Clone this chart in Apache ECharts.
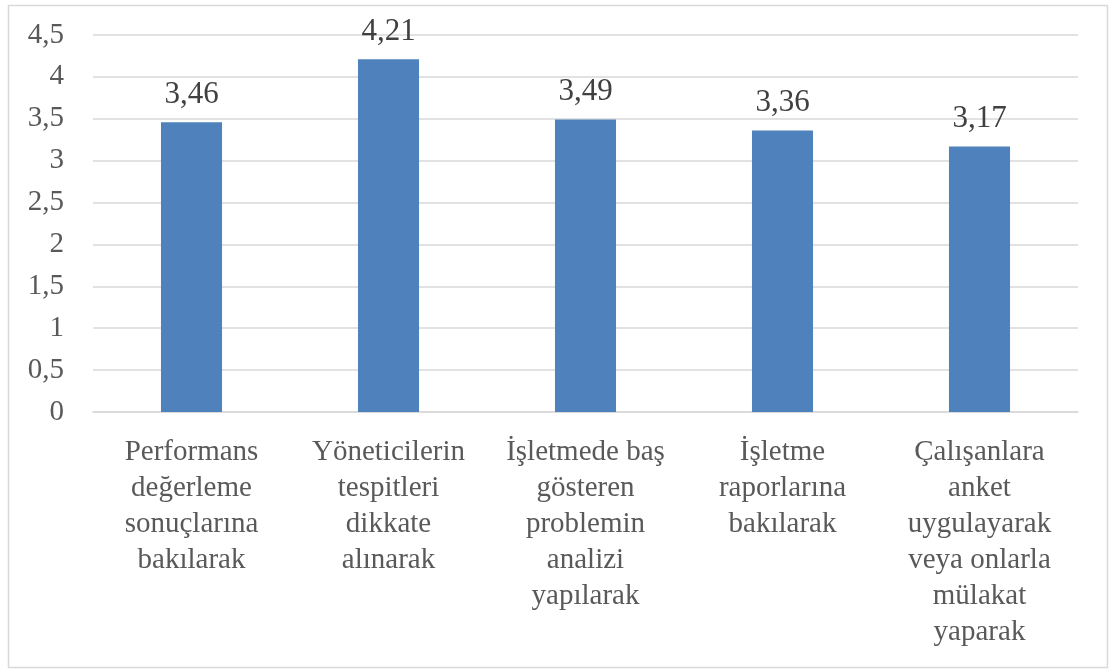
<!DOCTYPE html>
<html>
<head>
<meta charset="utf-8">
<script src="https://cdn.jsdelivr.net/npm/echarts@6/dist/echarts.min.js"></script>
<style>
html,body{margin:0;padding:0;background:#fff;}
#c{width:1109px;height:669px;}
</style>
</head>
<body>
<div id="c"></div>
<script>
const categories = [
  "Performans\ndeğerleme\nsonuçlarına\nbakılarak",
  "Yöneticilerin\ntespitleri\ndikkate\nalınarak",
  "İşletmede baş\ngösteren\nproblemin\nanalizi\nyapılarak",
  "İşletme\nraporlarına\nbakılarak",
  "Çalışanlara\nanket\nuygulayarak\nveya onlarla\nmülakat\nyaparak"
];
const values = [3.46, 4.21, 3.49, 3.36, 3.17];
const yMin = 0, yMax = 4.5, yStep = 0.5;

const chart = echarts.init(document.getElementById('c'), null, {renderer: 'canvas'});
const font = 'Liberation Serif';
chart.setOption({
  animation: false,
  backgroundColor: '#fff',
  graphic: [{
    type: 'rect',
    shape: {x: 8.5, y: 5.5, width: 1099, height: 662},
    style: {fill: 'none', stroke: '#d9d9d9', lineWidth: 1.5},
    silent: true
  }],
  grid: {left: 93, right: 31, top: 35, bottom: 257, containLabel: false},
  xAxis: {
    type: 'category',
    data: categories,
    axisLine: {show: true, lineStyle: {color: '#d9d9d9', width: 1.5}},
    axisTick: {show: false},
    axisLabel: {
      interval: 0,
      color: '#595959',
      fontFamily: font,
      fontSize: 29,
      lineHeight: 36,
      margin: 22,
      verticalAlign: 'top'
    }
  },
  yAxis: {
    type: 'value',
    min: yMin, max: yMax, interval: yStep,
    axisLine: {show: false},
    axisTick: {show: false},
    splitLine: {lineStyle: {color: '#d9d9d9', width: 1.5}},
    axisLabel: {
      color: '#595959',
      fontFamily: font,
      fontSize: 29,
      margin: 29,
      formatter: v => String(v).replace('.', ',')
    }
  },
  series: [{
    type: 'bar',
    data: values,
    barWidth: '31%',
    itemStyle: {color: '#4F81BD'},
    label: {
      show: true,
      position: 'top',
      distance: 12,
      color: '#404040',
      fontFamily: font,
      fontSize: 31,
      formatter: p => p.value.toFixed(2).replace('.', ',')
    }
  }]
});
</script>
</body>
</html>
